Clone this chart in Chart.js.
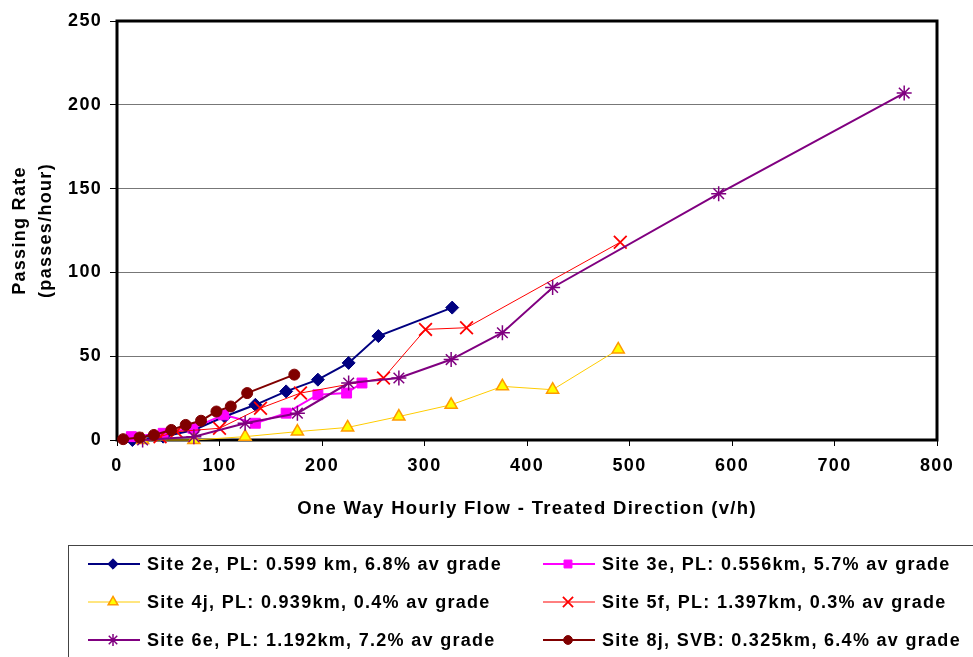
<!DOCTYPE html>
<html>
<head>
<meta charset="utf-8">
<script src="https://cdn.jsdelivr.net/npm/chart.js"></script>
<style>
  body { margin: 0; background: #fff; }
  #wrap { width: 973px; height: 657px; }
</style>
</head>
<body>
<div id="wrap"><canvas id="chart" width="973" height="657"></canvas></div>
<script>
// flow (v/h) and passing rate (passes/hour)
const site2eFlow = [15, 45, 75, 105, 135, 165, 196, 226, 255, 327];
const site2eRate = [0, 2, 6, 14, 21, 29, 36, 46, 62, 79];

const site3eFlow = [14, 45, 74, 104, 135, 165, 196, 224, 239];
const site3eRate = [2, 4, 7, 15, 10, 16, 27, 28, 34];

const site4jFlow = [25, 75, 125, 176, 225, 275, 326, 376, 425, 489];
const site4jRate = [0, 0, 2, 5, 7.5, 14, 21, 32, 30, 54];

const site5fFlow = [42, 58, 100, 140, 179, 260, 301, 341, 491];
const site5fRate = [2, 5, 7, 19, 28, 37, 66, 67, 118];

const site6eFlow = [25, 75, 125, 176, 226, 275, 326, 376, 425, 587, 768];
const site6eRate = [0, 2, 10, 16, 34, 37, 48, 64, 91, 147, 207];

const site8jFlow = [6, 22, 36, 53, 67, 82, 97, 111, 127, 173];
const site8jRate = [0.5, 1.5, 3, 6, 9, 11.5, 17, 20, 28, 39];

const seriesLabels = [
    "Site 2e, PL: 0.599 km, 6.8% av grade",
    "Site 3e, PL: 0.556km, 5.7% av grade",
    "Site 4j, PL: 0.939km, 0.4% av grade",
    "Site 5f, PL: 1.397km, 0.3% av grade",
    "Site 6e, PL: 1.192km, 7.2% av grade",
    "Site 8j, SVB: 0.325km, 6.4% av grade",
];

const xTicks = [0, 100, 200, 300, 400, 500, 600, 700, 800];
const yTicks = [0, 50, 100, 150, 200, 250];

const FONT = "'Liberation Sans', Arial, sans-serif";

function toPoints(xs, ys) {
    return xs.map((x, i) => ({ x: x, y: ys[i] }));
}

const styles = [
    { color: "#000080", width: 2, point: "rectRot", radius: 6.5, fill: "#000080", pBorder: "#000080", pWidth: 1 },
    { color: "#FF00FF", width: 2, point: "rect", radius: 7, fill: "#FF00FF", pBorder: "#FF00FF", pWidth: 1 },
    { color: "#FFCC00", width: 1, point: "triangle", radius: 7, fill: "#FFFF00", pBorder: "#FF9900", pWidth: 1.5 },
    { color: "#FF0000", width: 1, point: "crossRot", radius: 9, fill: "#FF0000", pBorder: "#FF0000", pWidth: 1.8 },
    { color: "#800080", width: 2, point: "star", radius: 7.5, fill: "#800080", pBorder: "#800080", pWidth: 1.5 },
    { color: "#800000", width: 2, point: "circle", radius: 5.5, fill: "#800000", pBorder: "#800000", pWidth: 1 },
];

const allData = [
    toPoints(site2eFlow, site2eRate),
    toPoints(site3eFlow, site3eRate),
    toPoints(site4jFlow, site4jRate),
    toPoints(site5fFlow, site5fRate),
    toPoints(site6eFlow, site6eRate),
    toPoints(site8jFlow, site8jRate),
];

const datasets = allData.map((pts, i) => {
    const s = styles[i];
    return {
        label: seriesLabels[i],
        data: pts,
        showLine: true,
        borderColor: s.color,
        borderWidth: s.width,
        pointStyle: s.point,
        pointRadius: s.radius,
        pointBackgroundColor: s.fill,
        pointBorderColor: s.pBorder,
        pointBorderWidth: s.pWidth,
        tension: 0,
        clip: false,
        order: 5 - i,
    };
});

// the original text is spaced a little wider than Liberation Sans
const wideText = {
    id: "wideText",
    beforeDraw(chart) {
        chart.ctx.letterSpacing = "1.3px";
    },
};

const plotFrame = {
    id: "plotFrame",
    beforeDatasetsDraw(chart) {
        const { ctx, chartArea: a } = chart;
        ctx.save();
        ctx.strokeStyle = "#000";
        ctx.lineWidth = 3;
        ctx.strokeRect(a.left, a.top, a.right - a.left, a.bottom - a.top);
        ctx.restore();
    },
};

const boxLegend = {
    id: "boxLegend",
    afterDraw(chart) {
        const ctx = chart.ctx;
        ctx.save();
        ctx.letterSpacing = "1.3px";
        ctx.strokeStyle = "#444";
        ctx.lineWidth = 1;
        ctx.strokeRect(68.5, 545.5, 1000, 200);
        ctx.font = "bold 18px " + FONT;
        ctx.fillStyle = "#000";
        ctx.textBaseline = "middle";
        ctx.textAlign = "left";
        seriesLabels.forEach((label, i) => {
            const s = styles[i];
            const lx = i % 2 === 0 ? 88 : 543;
            const y = 564 + Math.floor(i / 2) * 38;
            ctx.strokeStyle = s.color;
            ctx.lineWidth = s.width;
            ctx.beginPath();
            ctx.moveTo(lx, y);
            ctx.lineTo(lx + 52, y);
            ctx.stroke();
            ctx.fillStyle = s.fill;
            ctx.strokeStyle = s.pBorder;
            ctx.lineWidth = s.pWidth;
            Chart.helpers.drawPoint(ctx, {
                pointStyle: s.point,
                radius: s.radius * 0.8,
                rotation: 0,
                borderWidth: s.pWidth,
            }, lx + 25, y);
            ctx.fillStyle = "#000";
            ctx.fillText(label, lx + 59, y + 1);
        });
        ctx.restore();
    },
};

const ctx = document.getElementById("chart").getContext("2d");

new Chart(ctx, {
    type: "scatter",
    data: { datasets: datasets },
    options: {
        responsive: false,
        animation: false,
        layout: { padding: { left: 0, top: 21, right: 36, bottom: 132 } },
        plugins: {
            legend: { display: false },
            tooltip: { enabled: false },
        },
        scales: {
            x: {
                type: "linear",
                min: 0,
                max: 800,
                afterBuildTicks: (scale) => {
                    scale.ticks = xTicks.map((v) => ({ value: v }));
                },
                afterFit: (scale) => {
                    scale.height = 85;
                },
                border: { display: false },
                grid: {
                    drawOnChartArea: false,
                    drawTicks: true,
                    tickLength: 6,
                    tickColor: "#000",
                    tickWidth: 1,
                },
                ticks: {
                    color: "#000",
                    padding: 9,
                    maxRotation: 0,
                    font: { family: FONT, size: 18, weight: "bold" },
                },
                title: {
                    display: true,
                    text: "One Way Hourly Flow - Treated Direction (v/h)",
                    color: "#000",
                    padding: { top: 4, bottom: 5 },
                    font: { family: FONT, size: 18.5, weight: "bold" },
                },
            },
            y: {
                type: "linear",
                min: 0,
                max: 250,
                afterBuildTicks: (scale) => {
                    scale.ticks = yTicks.map((v) => ({ value: v }));
                },
                afterFit: (scale) => {
                    scale.width = 117;
                },
                border: { display: false },
                grid: {
                    color: "#777",
                    lineWidth: 1,
                    drawTicks: true,
                    tickLength: 7,
                    tickColor: "#000",
                },
                ticks: {
                    color: "#000",
                    padding: 8,
                    font: { family: FONT, size: 18, weight: "bold" },
                },
                title: {
                    display: true,
                    text: ["Passing Rate", "(passes/hour)"],
                    color: "#000",
                    padding: { top: 7, bottom: 0 },
                    font: { family: FONT, size: 18, weight: "bold", lineHeight: 1.45 },
                },
            },
        },
    },
    plugins: [wideText, plotFrame, boxLegend],
});
</script>
</body>
</html>
